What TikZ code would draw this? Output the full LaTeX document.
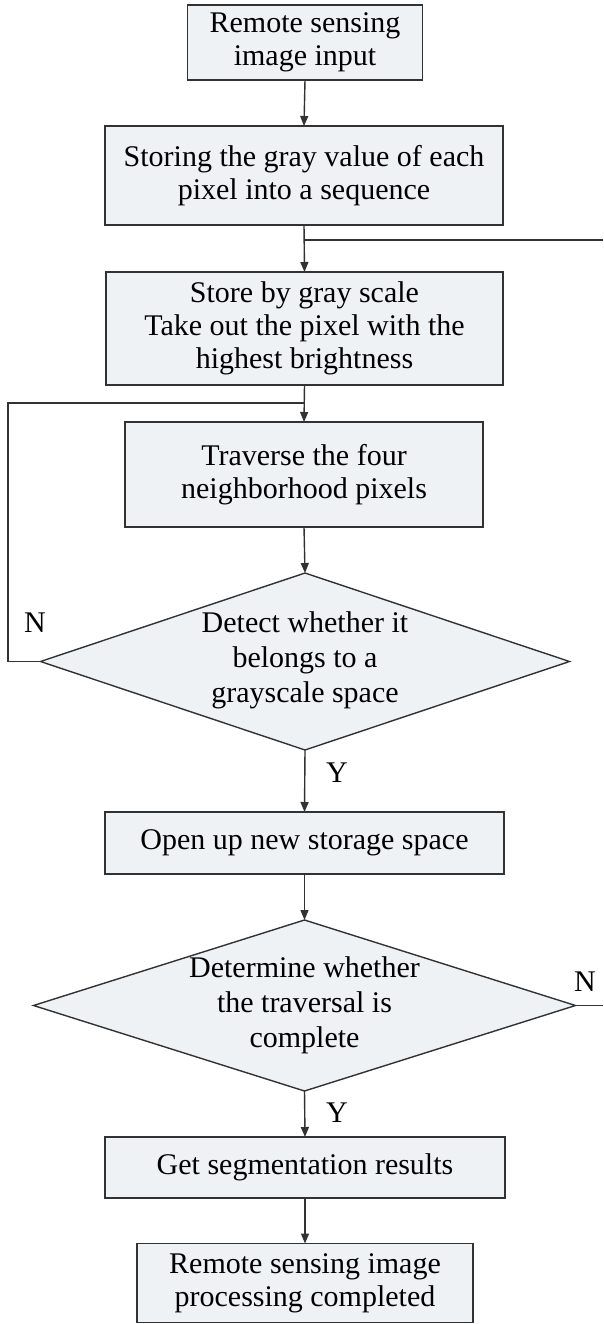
\documentclass[tikz,border=0pt]{standalone}
\usepackage{fontspec}
\setmainfont{Liberation Serif}
\usetikzlibrary{arrows.meta,shapes.geometric}
\definecolor{boxfill}{RGB}{239,242,245}
\definecolor{edge}{RGB}{50,50,50}
\tikzset{
  base/.style={draw=edge, line width=1.4pt, fill=boxfill, outer sep=0pt, inner sep=0pt,
    align=center, font=\fontsize{30}{33}\selectfont},
  stepbox/.style={base, rectangle},
  decision/.style={base, diamond},
  dtext/.style={align=center, font=\fontsize{30}{35}\selectfont, inner sep=0pt},
  flow/.style={draw=edge, line width=1.4pt, -{Triangle[length=10pt,width=8pt]}},
  link/.style={draw=edge, line width=1.4pt},
  tag/.style={font=\fontsize{30}{33}\selectfont, inner sep=0pt}
}
\begin{document}
\begin{tikzpicture}[x=1pt,y=-1pt]
\useasboundingbox (0,0) rectangle (603,1324);

% process boxes
\node[stepbox, minimum width=235pt, minimum height=75pt] (b1) at (305,42.5)
  {Remote sensing\\image input};
\node[stepbox, minimum width=398pt, minimum height=99pt] (b2) at (304,175.5)
  {Storing the gray value of each\\pixel into a sequence};
\node[stepbox, minimum width=397pt, minimum height=113pt] (b3) at (304.5,328.5)
  {Store by gray scale\\Take out the pixel with the\\highest brightness};
\node[stepbox, minimum width=358pt, minimum height=105pt] (b4) at (304,474.5)
  {Traverse the four\\neighborhood pixels};

% first decision
\node[decision, minimum width=529pt, minimum height=177pt] (d1) at (305,661.5) {};
\node[dtext] (t1) at ([yshift=1pt]d1) {Detect whether it\\belongs to a\\grayscale space};

\node[stepbox, minimum width=399pt, minimum height=62pt] (b5) at (304.5,843)
  {Open up new storage space};

% second decision
\node[decision, minimum width=542pt, minimum height=171pt] (d2) at (304.5,1005.5) {};
\node[dtext] (t2) at (d2) {Determine whether\\the traversal is\\complete};

\node[stepbox, minimum width=400pt, minimum height=61pt] (b6) at (305,1167.5)
  {Get segmentation results};
\node[stepbox, minimum width=336pt, minimum height=79pt] (b7) at (305,1283)
  {Remote sensing image\\processing completed};

% junction points and the edge-running loop
\coordinate (rin) at (603,240);
\coordinate (j1) at (b2.south |- rin);
\coordinate (lx) at (8,0);
\coordinate (j2) at (305,403);
\coordinate (rout) at (603,1005.5);

% main flow
\draw[flow] (b1.south) -- (b2.north);
\draw[flow] (b2.south) -- (b3.north);
\draw[link] (rin) -- (j1);
\draw[flow] (b3.south) -- (b4.north);
\draw[link] (d1.west) -- (lx |- d1.west) |- (j2);
\draw[flow] (b4.south) -- (d1.north);
\draw[flow] (d1.south) -- (b5.north);
\draw[flow] (b5.south) -- (d2.north);
\draw[flow] (d2.south) -- (b6.north);
\draw[link] (d2.east) -- (rout);
\draw[flow] (b6.south) -- (b7.north);

% branch labels
\node[tag] (n1) at (35,623) {N};
\node[tag] (y1) at (337,773) {Y};
\node[tag] (n2) at (585,982) {N};
\node[tag] (y2) at (337,1113) {Y};
\end{tikzpicture}
\end{document}
